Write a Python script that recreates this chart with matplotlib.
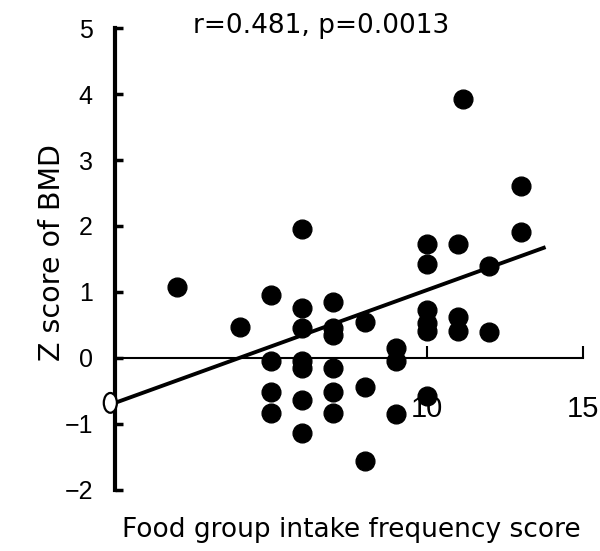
import matplotlib
matplotlib.use("Agg")
import matplotlib.pyplot as plt
from matplotlib.patches import Ellipse

# food group intake frequency score vs Z score of BMD
score = [2, 4,
         5, 5, 5, 5,
         6, 6, 6, 6, 6, 6, 6,
         7, 7, 7, 7, 7, 7,
         8, 8, 8,
         9, 9, 9,
         10, 10, 10, 10, 10, 10,
         11.15, 11, 11, 11,
         12, 12,
         13, 13]
zscore = [1.08, 0.47,
          0.95, -0.04, -0.52, -0.83,
          1.96, 0.75, 0.45, -0.05, -0.15, -0.63, -1.14,
          0.85, 0.45, 0.35, -0.15, -0.52, -0.83,
          0.54, -0.44, -1.56,
          0.15, -0.04, -0.85,
          1.73, 1.42, 0.72, 0.53, 0.41, -0.57,
          3.93, 1.72, 0.62, 0.41,
          1.40, 0.40,
          2.61, 1.91]

fit_x = [0, 13.8]
fit_intercept = -0.68
fit_slope = 0.171

yticks = [-2, -1, 0, 1, 2, 3, 4, 5]
xticks = [10, 15]
stats_text = "r=0.481, p=0.0013"

fig = plt.figure(figsize=(6, 5.51), dpi=100, facecolor="white")
ax = fig.add_axes([0.1657, 0.0748, 0.832, 0.9103])
ax.set_xlim(-0.5, 15.5)
ax.set_ylim(-2.3, 5.3)

ax.plot(score, zscore, "o", color="black", markersize=13.5, zorder=3)

fit_y = [fit_intercept + fit_slope * v for v in fit_x]
ax.plot(fit_x, fit_y, color="black", linewidth=2.8, zorder=4, solid_capstyle="butt")
ax.add_patch(Ellipse((-0.15, fit_intercept), 0.42, 0.30, facecolor="white",
                     edgecolor="black", linewidth=1.6, zorder=5, clip_on=False))

for sp in ("top", "right"):
    ax.spines[sp].set_visible(False)
ax.spines["left"].set_position(("data", 0))
ax.spines["left"].set_bounds(-2, 5)
ax.spines["left"].set_linewidth(3)
ax.spines["bottom"].set_position(("data", 0))
ax.spines["bottom"].set_bounds(0, 15)
ax.spines["bottom"].set_linewidth(1.5)

ax.set_yticks(yticks)
ax.set_xticks(xticks)
ax.tick_params(axis="y", direction="in", length=6, width=2.5, pad=16,
               labelsize=18, labelfontfamily="Liberation Sans")
ax.tick_params(axis="x", direction="in", length=9, width=1.5, pad=27,
               labelsize=21, labelfontfamily="Liberation Sans")

fig.text(321 / 600, 1 - 33 / 551, stats_text, ha="center", va="baseline",
         fontsize=19, fontfamily="DejaVu Sans")
fig.text(351 / 600, 1 - 537 / 551, "Food group intake frequency score",
         ha="center", va="baseline", fontsize=19, fontfamily="DejaVu Sans")
fig.text(60 / 600, 1 - 253 / 551, "Z score of BMD", rotation=90,
         rotation_mode="anchor", ha="center", va="baseline",
         fontsize=20.5, fontfamily="DejaVu Sans")

fig.savefig("out.png", dpi=100, facecolor="white")
